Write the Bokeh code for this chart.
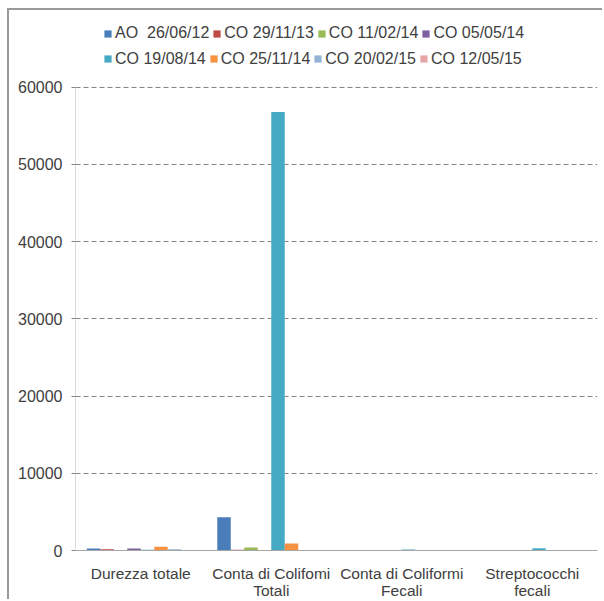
from bokeh.plotting import figure
from bokeh.models import FactorRange, Range1d, Legend, LegendItem, FixedTicker, NumeralTickFormatter, ColumnDataSource
from bokeh.transform import dodge
from bokeh.embed import file_html
from bokeh.resources import INLINE

categories = ["Durezza totale", "Conta di Colifomi\nTotali", "Conta di Coliformi\nFecali", "Streptococchi\nfecali"]

series_names = ["AO  26/06/12", "CO 29/11/13", "CO 11/02/14", "CO 05/05/14",
                "CO 19/08/14", "CO 25/11/14", "CO 20/02/15", "CO 12/05/15"]

ao_260612 = [250, 4300, 30, 20]
co_291113 = [150, 100, 60, 80]
co_110214 = [80, 400, 80, 40]
co_050514 = [250, 20, 50, 40]
co_190814 = [100, 56800, 120, 300]
co_251114 = [500, 900, 70, 60]
co_200215 = [150, 50, 20, 20]
co_120515 = [50, 10, 30, 60]

y_ticks = [0, 10000, 20000, 30000, 40000, 50000, 60000]

series_values = [ao_260612, co_291113, co_110214, co_050514,
                 co_190814, co_251114, co_200215, co_120515]
colors = ["#4A7EBB", "#BE4B48", "#98B954", "#7D60A0",
          "#46AAC5", "#F69240", "#95B3D7", "#E6A5A4"]

FONT = "Liberation Sans"
TXT = "#404040"

# page layout targets: canvas origin (9, 10); frame x 75..597, y 20..552
# 60000 sits at y=87 -> y range top extends above to hold the legend
y_top = 60000 * (552 - 20) / (552 - 87)

p = figure(x_range=FactorRange(*categories, range_padding=0),
           y_range=Range1d(0, y_top),
           width=595, height=591,
           output_backend="svg", toolbar_location=None,
           min_border_left=66, min_border_right=7,
           min_border_top=10, min_border_bottom=49)
p.styles = {"margin-top": "8px", "margin-left": "7px",
            "border-top": "2px solid #9a9a9a", "border-left": "2px solid #9a9a9a"}
p.outline_line_color = None
p.background_fill_color = "white"
p.border_fill_color = "white"

data = {"cat": categories}
for i, vals in enumerate(series_values):
    data[f"s{i}"] = vals
src = ColumnDataSource(data)

w = 0.1034
renderers = []
for i in range(8):
    r = p.vbar(x=dodge("cat", (i - 3.5) * w, range=p.x_range), top=f"s{i}",
               width=w, source=src, fill_color=colors[i], line_color=None)
    renderers.append(r)

# grid
p.xgrid.grid_line_color = None
p.ygrid.grid_line_color = "#868686"
p.ygrid.grid_line_dash = "5 3"
p.ygrid.grid_line_width = 1

# y axis
p.yaxis.ticker = FixedTicker(ticks=y_ticks)
p.yaxis.bounds = (0, 60000)
p.yaxis.formatter = NumeralTickFormatter(format="0")
p.yaxis.axis_line_color = "#D9D9D9"
p.yaxis.major_tick_line_color = "#868686"
p.yaxis.major_tick_out = 4
p.yaxis.major_tick_in = 0
p.yaxis.minor_tick_line_color = None
p.yaxis.major_label_text_font = FONT
p.yaxis.major_label_text_font_size = "16px"
p.yaxis.major_label_text_color = TXT
p.yaxis.major_label_standoff = 9

# x axis
p.xaxis.axis_line_color = "#A6A6A6"
p.xaxis.major_tick_line_color = None
p.xaxis.major_tick_out = 0
p.xaxis.major_tick_in = 0
p.xaxis.minor_tick_line_color = None
p.xaxis.major_label_text_font = FONT
p.xaxis.major_label_text_font_size = "15.5px"
p.xaxis.major_label_text_line_height = 1.0
p.xaxis.major_label_text_color = TXT
p.xaxis.major_label_standoff = 14

# legends, two rows; location = bottom-left in frame pixels
frame_bottom = 552
row_bottoms = [45.5, 71]
for row in range(2):
    items = [LegendItem(label=series_names[row * 4 + k], renderers=[renderers[row * 4 + k]])
             for k in range(4)]
    lg = Legend(items=items, location=(28, frame_bottom - row_bottoms[row]),
                orientation="horizontal", padding=0, margin=0, spacing=3,
                border_line_color=None, background_fill_alpha=0,
                glyph_width=9, glyph_height=9, label_standoff=3,
                label_height=21,
                label_text_font=FONT, label_text_font_size="16px",
                label_text_color=TXT)
    p.add_layout(lg, "center")

open("out.html", "w").write(file_html(p, INLINE))
